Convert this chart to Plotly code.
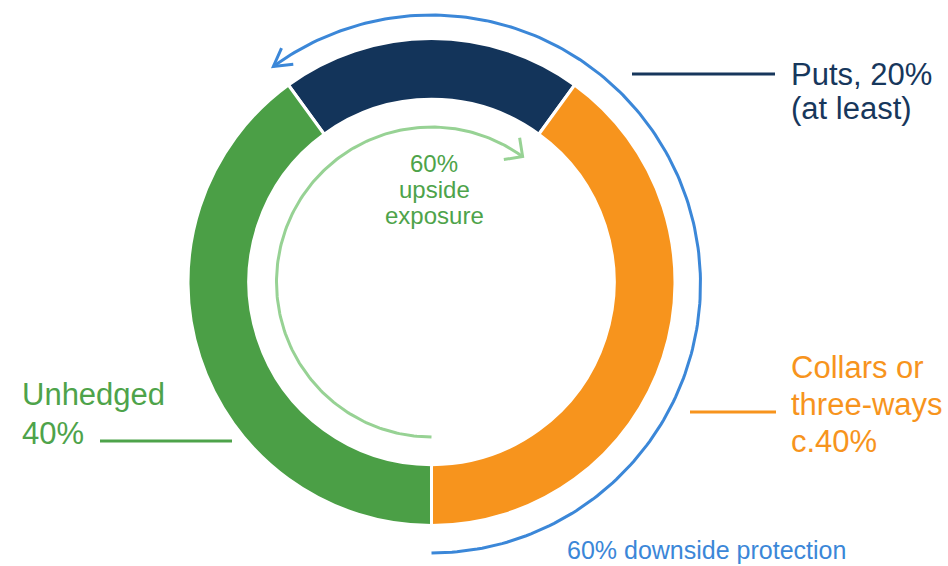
import numpy as np
import plotly.graph_objects as go

# ---- data ----
segment_labels = ["Puts", "Collars or three-ways", "Unhedged"]
segment_shares = [20, 40, 40]
segment_colors = ["#13345a", "#f7941d", "#4b9f46"]

puts_lines = ["Puts, 20%", "(at least)"]
collars_lines = ["Collars or", "three-ways", "c.40%"]
unhedged_lines = ["Unhedged", "40%"]

# upside is kept by puts + unhedged volumes, downside is covered by puts + collars
upside_share = segment_shares[0] + segment_shares[2]
downside_share = segment_shares[0] + segment_shares[1]
center_lines = [f"{upside_share}%", "upside", "exposure"]
bottom_line = f"{downside_share}% downside protection"

# ---- styling / layout constants (pixels) ----
W, H = 948, 566
CX, CY = 431.5, 282.0
R_OUT = 243.5
HOLE = 0.75
R_UP = 155.0          # inner arrow radius
BLUE_CY, R_DOWN = 284.0, 269.0  # outer arrow centre / radius
FONT = "Liberation Sans, Arial, sans-serif"
NAVY_TXT = "#17375c"
ORANGE_TXT = "#f7941d"
GREEN_TXT = "#4ea34a"
BLUE = "#3b87d8"
LIGHT_GREEN = "#97d294"


def arc(cx, cy, r, start_deg, sweep_deg, n=200):
    """Points on a circle; angles clockwise from 12 o'clock, screen y down."""
    t = np.radians(np.linspace(start_deg, start_deg + sweep_deg, n))
    return cx + r * np.sin(t), cy - r * np.cos(t), t[-1], np.sign(sweep_deg)


def chevron(x_end, y_end, theta, sign, length=19.0, spread=38.0):
    """Open arrow head at the end of an arc travelling in direction `sign`."""
    travel = sign * np.array([np.cos(theta), np.sin(theta)])
    back = -travel
    pts = []
    for a in (np.radians(spread), -np.radians(spread)):
        rx = back[0] * np.cos(a) - back[1] * np.sin(a)
        ry = back[0] * np.sin(a) + back[1] * np.cos(a)
        pts.append((x_end + length * rx, y_end + length * ry))
    xs = [pts[0][0], x_end, pts[1][0]]
    ys = [pts[0][1], y_end, pts[1][1]]
    return xs, ys


fig = go.Figure()

# donut
fig.add_trace(go.Pie(
    labels=segment_labels,
    values=segment_shares,
    sort=False,
    direction="clockwise",
    rotation=-segment_shares[0] / 100 * 360 / 2,
    hole=HOLE,
    marker=dict(colors=segment_colors, line=dict(color="white", width=3)),
    textinfo="none",
    hoverinfo="label+percent",
    domain=dict(
        x=[(CX - R_OUT) / W, (CX + R_OUT) / W],
        y=[1 - (CY + R_OUT) / H, 1 - (CY - R_OUT) / H],
    ),
    showlegend=False,
))

# inner arrow: upside exposure, clockwise from the bottom
ux, uy, ut, us = arc(CX, CY, R_UP, 180, upside_share / 100 * 360)
fig.add_trace(go.Scatter(x=ux, y=uy, mode="lines",
                         line=dict(color=LIGHT_GREEN, width=3),
                         hoverinfo="skip", showlegend=False))
hx, hy = chevron(ux[-1], uy[-1], ut, us, length=19, spread=45)
fig.add_trace(go.Scatter(x=hx, y=hy, mode="lines",
                         line=dict(color=LIGHT_GREEN, width=3),
                         hoverinfo="skip", showlegend=False))

# outer arrow: downside protection, anticlockwise from the bottom
dx, dy, dt, ds = arc(CX, BLUE_CY, R_DOWN, 180, -downside_share / 100 * 360)
fig.add_trace(go.Scatter(x=dx, y=dy, mode="lines",
                         line=dict(color=BLUE, width=3),
                         hoverinfo="skip", showlegend=False))
hx, hy = chevron(dx[-1], dy[-1], dt, ds, length=20, spread=30)
fig.add_trace(go.Scatter(x=hx, y=hy, mode="lines",
                         line=dict(color=BLUE, width=3),
                         hoverinfo="skip", showlegend=False))

# leader lines
leaders = [
    (632, 775, 74, NAVY_TXT),
    (690, 776, 412, ORANGE_TXT),
    (100, 232, 441, GREEN_TXT),
]
shapes = [dict(type="line", xref="x", yref="y", x0=a, x1=b, y0=y, y1=y,
               line=dict(color=c, width=3)) for a, b, y, c in leaders]

# text labels, one annotation per line (anchored by baseline)
annotations = []


def add_lines(lines, x, baselines, size, color, anchor="left"):
    for text, base in zip(lines, baselines):
        annotations.append(dict(
            x=x, y=base - 0.35 * size, xref="x", yref="y",
            text=text, showarrow=False, xanchor=anchor, yanchor="middle",
            font=dict(family=FONT, size=size, color=color),
        ))


add_lines(puts_lines, 789, [85, 119], 31, NAVY_TXT)
add_lines(collars_lines, 789, [378, 415, 452], 31, ORANGE_TXT)
add_lines(unhedged_lines, 20, [405, 444], 31, GREEN_TXT)
add_lines(center_lines, 434, [172, 198, 224], 24, GREEN_TXT, anchor="center")
add_lines([bottom_line], 706, [559], 25, BLUE, anchor="center")

fig.update_layout(
    width=W, height=H, autosize=False,
    margin=dict(l=0, r=0, t=0, b=0),
    paper_bgcolor="white", plot_bgcolor="white",
    xaxis=dict(range=[0, W], visible=False, fixedrange=True),
    yaxis=dict(range=[H, 0], visible=False, fixedrange=True),
    shapes=shapes,
    annotations=annotations,
    showlegend=False,
)

fig.write_html("out.html")
